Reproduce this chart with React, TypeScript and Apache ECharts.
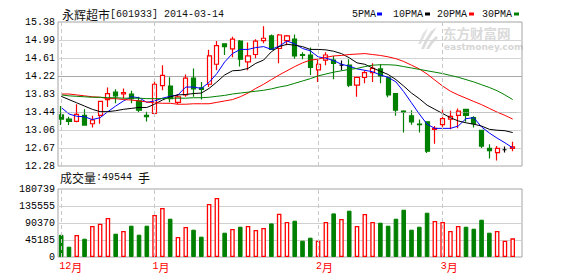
import React, { useEffect, useRef } from 'react';
import * as echarts from 'echarts';

const stockName = '永辉超市';
const stockCode = '601933';
const tradeDate = '2014-03-14';

const dates = [
  '2013-12-16', '2013-12-17', '2013-12-18', '2013-12-19', '2013-12-20', '2013-12-23', '2013-12-24', '2013-12-25', '2013-12-26', '2013-12-27', '2013-12-30', '2013-12-31',
  '2014-01-02', '2014-01-03', '2014-01-06', '2014-01-07', '2014-01-08', '2014-01-09', '2014-01-10', '2014-01-13', '2014-01-14', '2014-01-15', '2014-01-16', '2014-01-17',
  '2014-01-20', '2014-01-21', '2014-01-22', '2014-01-23', '2014-01-24', '2014-01-27', '2014-01-28', '2014-01-29', '2014-01-30',
  '2014-02-07', '2014-02-10', '2014-02-11', '2014-02-12', '2014-02-13', '2014-02-14', '2014-02-17', '2014-02-18', '2014-02-19', '2014-02-20', '2014-02-21',
  '2014-02-24', '2014-02-25', '2014-02-26', '2014-02-27', '2014-02-28',
  '2014-03-03', '2014-03-04', '2014-03-05', '2014-03-06', '2014-03-07', '2014-03-10', '2014-03-11', '2014-03-12', '2014-03-13', '2014-03-14',
];

const opens = [
  13.38, 13.29, 13.24, 13.37, 13.19, 13.37, 13.71, 13.87, 13.83, 13.83, 13.68, 13.37,
  13.41, 14.01, 14.00, 13.65, 13.81, 14.17, 13.96, 14.04, 14.47, 14.91, 14.80, 14.97,
  14.52, 14.68, 14.98, 15.08, 14.81, 14.98, 15.01, 14.68, 14.67,
  14.35, 14.56, 14.56, 14.45, 14.45, 14.02, 14.19, 14.29, 14.37, 14.18, 13.84,
  13.46, 13.36, 13.18, 13.23, 13.07,
  13.17, 13.29, 13.37, 13.50, 13.32, 13.05, 12.66, 12.57, 12.63, 12.66,
];
const closes = [
  13.29, 13.24, 13.39, 13.16, 13.27, 13.67, 13.84, 13.79, 13.86, 13.73, 13.48, 13.34,
  14.04, 14.23, 13.73, 13.77, 14.17, 13.94, 13.93, 14.65, 14.87, 14.85, 15.01, 14.58,
  14.65, 14.97, 15.03, 14.79, 15.10, 15.08, 14.65, 14.66, 14.40,
  14.47, 14.67, 14.49, 14.45, 14.02, 14.19, 14.29, 14.38, 14.22, 13.81, 13.48,
  13.44, 13.23, 13.17, 12.60, 13.09,
  13.30, 13.35, 13.46, 13.37, 13.19, 12.71, 12.61, 12.66, 12.63, 12.69,
];
const lows = [
  13.16, 13.16, 13.22, 13.16, 13.11, 13.19, 13.55, 13.63, 13.73, 13.63, 13.44, 13.24,
  13.39, 13.91, 13.65, 13.61, 13.77, 13.77, 13.71, 13.98, 14.34, 14.67, 14.62, 14.42,
  14.34, 14.60, 14.92, 14.79, 14.49, 14.88, 14.59, 14.58, 14.24,
  14.09, 14.45, 14.15, 14.34, 13.98, 13.77, 14.06, 14.09, 14.06, 13.76, 13.36,
  13.00, 13.17, 13.00, 12.56, 12.76,
  13.11, 13.07, 13.09, 13.23, 13.11, 12.67, 12.44, 12.40, 12.57, 12.60,
];
const highs = [
  13.57, 13.34, 13.61, 13.50, 13.36, 13.68, 13.97, 13.93, 13.95, 13.90, 13.77, 13.45,
  14.11, 14.45, 14.19, 13.83, 14.25, 14.38, 14.09, 14.78, 14.97, 14.92, 15.06, 14.99,
  14.94, 15.01, 15.29, 15.11, 15.12, 15.10, 15.11, 14.73, 14.83,
  14.56, 14.73, 14.65, 14.55, 14.58, 14.20, 14.34, 14.49, 14.47, 14.20, 13.85,
  13.48, 13.48, 13.28, 13.24, 13.14,
  13.54, 13.47, 13.52, 13.51, 13.35, 13.06, 12.75, 12.71, 12.70, 12.80,
];

const ma5 = [
  13.54, 13.40, 13.35, 13.34, 13.28, 13.32, 13.45, 13.57, 13.68, 13.77, 13.75, 13.65,
  13.68, 13.74, 13.78, 13.81, 13.98, 13.98, 13.95, 14.08, 14.27, 14.52, 14.70, 14.79,
  14.79, 14.83, 14.85, 14.79, 14.86, 14.97, 14.91, 14.81, 14.76,
  14.63, 14.60, 14.55, 14.47, 14.43, 14.37, 14.34, 14.31, 14.24, 14.19, 14.09,
  13.88, 13.64, 13.40, 13.18, 13.09,
  13.09, 13.09, 13.14, 13.30, 13.32, 13.12, 12.99, 12.88, 12.78, 12.67,
];
const ma10 = [
  13.78, 13.71, 13.64, 13.57, 13.50, 13.45, 13.45, 13.47, 13.50, 13.52, 13.54, 13.54,
  13.61, 13.70, 13.77, 13.81, 13.82, 13.84, 13.85, 13.95, 14.09, 14.24, 14.33, 14.34,
  14.38, 14.49, 14.56, 14.74, 14.85, 14.90, 14.88, 14.85, 14.79,
  14.79, 14.78, 14.75, 14.70, 14.61, 14.50, 14.47, 14.39, 14.32, 14.25, 14.14,
  14.00, 13.85, 13.73, 13.59, 13.50,
  13.41, 13.32, 13.25, 13.21, 13.18, 13.14, 13.07, 13.05, 13.04, 13.00,
];
const ma20 = [
  13.83, 13.83, 13.81, 13.79, 13.77, 13.76, 13.73, 13.73, 13.71, 13.70, 13.68, 13.66,
  13.64, 13.63, 13.63, 13.61, 13.61, 13.62, 13.62, 13.62, 13.65, 13.68, 13.71, 13.77,
  13.85, 13.95, 14.04, 14.14, 14.24, 14.33, 14.42, 14.50, 14.56,
  14.58, 14.62, 14.65, 14.66, 14.68, 14.69, 14.70, 14.68, 14.66, 14.63, 14.59,
  14.53, 14.45, 14.37, 14.26, 14.13,
  14.00, 13.89, 13.81, 13.74, 13.67, 13.60, 13.52, 13.44, 13.37, 13.29,
];
const ma30 = [
  13.81, 13.79, 13.78, 13.77, 13.76, 13.76, 13.75, 13.75, 13.74, 13.74, 13.74, 13.73,
  13.73, 13.73, 13.74, 13.74, 13.74, 13.75, 13.75, 13.76, 13.78, 13.80, 13.83, 13.85,
  13.87, 13.89, 13.91, 13.94, 13.98, 14.01, 14.06, 14.11, 14.16,
  14.22, 14.26, 14.30, 14.33, 14.36, 14.38, 14.42, 14.45, 14.46, 14.46, 14.45,
  14.42, 14.39, 14.36, 14.33, 14.30,
  14.27, 14.23, 14.19, 14.14, 14.09, 14.03, 13.97, 13.90, 13.81, 13.71,
];

const volumes = [
  59000, 27400, 58500, 48600, 82400, 88500, 103600, 62000, 69100, 83200, 59300, 83200,
  111600, 130200, 101800, 53200, 79700, 72600, 54000, 140900, 156800, 64600, 74400, 80500,
  82400, 71800, 77100, 89300, 115100, 93000, 96500, 43300, 51300,
  43300, 93000, 115900, 101000, 123100, 82400, 114300, 93000, 91200, 83200, 101800,
  125700, 72600, 80500, 117700, 95700,
  93000, 69100, 82400, 80500, 75200, 99100, 64600, 69100, 43300, 49544,
];

const priceTicks = ['12.28', '12.67', '13.06', '13.44', '13.83', '14.22', '14.61', '14.99', '15.38'];
const volumeTicks = ['0', '45185', '90370', '135555', '180739'];
const maNames = ['5PMA', '10PMA', '20PMA', '30PMA'];

const UP = '#ff0000';
const DOWN = '#008000';
const DOJI = '#000000';
const MA_COLORS = ['#0000ff', '#000000', '#ff0000', '#008000'];
const MONO = '"Liberation Mono", "DejaVu Sans Mono", monospace';
const CJK = '"Noto Sans CJK SC", sans-serif';

export default function App() {
  const ref = useRef<HTMLDivElement>(null);

  useEffect(() => {
    if (!ref.current) return;
    const chart = echarts.init(ref.current, null, { renderer: 'svg' });

    const monthStarts = dates
      .map((d, i) => (i === 0 || d.slice(5, 7) !== dates[i - 1].slice(5, 7) ? i : -1))
      .filter((i) => i >= 0);
    const monthSet = new Set(monthStarts);

    const candleData = dates.map((_, i) => [opens[i], closes[i], lows[i], highs[i]]);
    const volData = volumes.map((v, i) => {
      const down = closes[i] < opens[i];
      return {
        value: v,
        itemStyle: down
          ? { color: DOWN, borderColor: DOWN, borderWidth: 1 }
          : { color: '#ffffff', borderColor: UP, borderWidth: 1.3 },
      };
    });

    const monthLines = monthStarts.map((i) => ({ xAxis: dates[i] }));
    const monthMarkLine = {
      silent: true,
      symbol: ['none', 'none'],
      label: { show: false },
      lineStyle: { type: [4, 3], color: '#c8c8c8', width: 1 },
      data: monthLines,
      animation: false,
    };

    const priceSplitColors = priceTicks.map((_, i) =>
      i === 3 ? 'rgba(0,0,0,0)' : i === 4 ? '#a8a8a8' : '#d4d4d4'
    );

    const PL = 57.3;
    const PW = 459.3;

    const legendX = [352, 393, 437, 482];
    const legendBoxX = [377, 425, 469, 514];

    const graphics: any[] = [
      {
        type: 'text',
        x: 62,
        y: 14,
        style: {
          text: `{c|${stockName}}{a|[${stockCode}] ${tradeDate}}`,
          verticalAlign: 'middle',
          rich: {
            c: { fontFamily: CJK, fontSize: 12, fill: '#111' },
            a: { fontFamily: MONO, fontSize: 10, fill: '#111' },
          },
        },
      },
      ...maNames.flatMap((n, i) => [
        {
          type: 'text',
          x: legendX[i],
          y: 14,
          style: { text: n, fontFamily: MONO, fontSize: 10, fill: '#111', verticalAlign: 'middle' },
        },
        {
          type: 'rect',
          shape: { x: legendBoxX[i], y: 12.5, width: 5, height: 3 },
          style: { fill: MA_COLORS[i] },
        },
      ]),
      {
        type: 'text',
        x: 60,
        y: 177,
        style: {
          text: `{c|成交量}{a|:${volumes[volumes.length - 1]} }{c|手}`,
          verticalAlign: 'middle',
          rich: {
            c: { fontFamily: CJK, fontSize: 12, fill: '#111' },
            a: { fontFamily: MONO, fontSize: 10, fill: '#111' },
          },
        },
      },
      // watermark
      {
        type: 'polygon',
        z: -1,
        shape: { points: [[421, 49], [425, 40], [431, 31], [437, 27], [433, 33], [428, 41], [424, 49]] },
        style: { fill: '#dcdcdc' },
      },
      {
        type: 'polygon',
        z: -1,
        shape: { points: [[426, 49], [430, 42], [436, 36], [438, 38], [433, 43], [429, 49]] },
        style: { fill: '#dcdcdc' },
      },
      {
        type: 'polygon',
        z: -1,
        shape: { points: [[418, 44], [423, 33], [428, 28], [426, 33], [421, 44]] },
        style: { fill: '#e2e2e2' },
      },
      {
        type: 'text',
        z: -1,
        x: 443,
        y: 32.5,
        style: {
          text: '东方财富网', fontFamily: CJK, fontSize: 13.5, lineHeight: 12, fontWeight: 'bold',
          fill: '#dadada', verticalAlign: 'middle',
        },
      },
      {
        type: 'text',
        z: -1,
        x: 444,
        y: 47,
        style: {
          text: 'eastmoney.com', fontFamily: '"DejaVu Sans", sans-serif', fontSize: 9, lineHeight: 7,
          fontWeight: 'bold', fill: '#d6d6d6', verticalAlign: 'middle',
        },
      },
    ];

    const option: any = {
      animation: false,
      backgroundColor: '#ffffff',
      grid: [
        { left: 58, top: 22, width: 464, height: 144, show: true, borderColor: '#a4a4a4', borderWidth: 1, backgroundColor: 'transparent' },
        { left: PL, top: 22, width: PW, height: 144 },
        { left: 58, top: 189, width: 464, height: 68, show: true, borderColor: '#a4a4a4', borderWidth: 1, backgroundColor: 'transparent' },
        { left: PL, top: 189, width: PW, height: 68 },
      ],
      xAxis: [
        { type: 'value', gridIndex: 0, show: false },
        {
          type: 'category', gridIndex: 1, data: dates, boundaryGap: true,
          axisLine: { show: false }, axisTick: { show: false }, axisLabel: { show: false }, splitLine: { show: false },
        },
        { type: 'value', gridIndex: 2, show: false },
        {
          type: 'category', gridIndex: 3, data: dates, boundaryGap: true,
          axisLine: { show: false }, axisTick: { show: false }, splitLine: { show: false },
          axisLabel: {
            show: true,
            interval: (idx: number) => monthSet.has(idx),
            align: 'left',
            margin: 4,
            padding: [0, 0, 0, -2],
            hideOverlap: false,
            formatter: (val: string) => `{n|${parseInt(val.slice(5, 7), 10)}}{m|月}`,
            rich: {
              n: { fontFamily: MONO, fontSize: 10, color: '#ff0000' },
              m: { fontFamily: CJK, fontSize: 11, color: '#ff0000' },
            },
          },
        },
      ],
      yAxis: [
        {
          type: 'category', gridIndex: 0, data: priceTicks, boundaryGap: false,
          axisLine: { show: false }, axisTick: { show: false },
          axisLabel: { interval: 0, margin: 3, fontFamily: MONO, fontSize: 10, color: '#000' },
          splitLine: { show: true, interval: 0, showMinLine: false, showMaxLine: false, lineStyle: { color: priceSplitColors, width: 1 } },
        },
        {
          type: 'value', gridIndex: 1, min: Number(priceTicks[0]), max: Number(priceTicks[priceTicks.length - 1]),
          show: false, splitLine: { show: false },
        },
        {
          type: 'category', gridIndex: 2, data: volumeTicks, boundaryGap: false,
          axisLine: { show: false }, axisTick: { show: false },
          axisLabel: { interval: 0, margin: 3, fontFamily: MONO, fontSize: 10, color: '#000' },
          splitLine: { show: true, interval: 0, showMinLine: false, showMaxLine: false, lineStyle: { color: '#d0d0d0', width: 1 } },
        },
        {
          type: 'value', gridIndex: 3, min: Number(volumeTicks[0]), max: Number(volumeTicks[volumeTicks.length - 1]),
          show: false, splitLine: { show: false },
        },
      ],
      series: [
        {
          type: 'candlestick',
          name: 'K',
          xAxisIndex: 1,
          yAxisIndex: 1,
          data: candleData,
          barWidth: 4.6,
          itemStyle: {
            color: '#ffffff',
            color0: DOWN,
            borderColor: UP,
            borderColor0: DOWN,
            borderColorDoji: DOJI,
            borderWidth: 1.2,
          },
          markLine: {
            ...monthMarkLine,
            data: [
              ...monthLines,
              { yAxis: Number(priceTicks[3]), lineStyle: { type: 'dotted', color: '#b4b4b4', width: 1 } },
            ],
          },
        },
        ...[ma5, ma10, ma20, ma30].map((d, i) => ({
          type: 'line',
          name: maNames[i],
          xAxisIndex: 1,
          yAxisIndex: 1,
          data: d,
          symbol: 'none',
          showSymbol: false,
          smooth: false,
          lineStyle: { color: MA_COLORS[i], width: 1 },
          itemStyle: { color: MA_COLORS[i] },
          z: 3,
        })),
        {
          type: 'bar',
          name: 'VOL',
          xAxisIndex: 3,
          yAxisIndex: 3,
          data: volData,
          barWidth: 4.6,
          markLine: monthMarkLine,
        },
      ],
      graphic: graphics,
    };

    chart.setOption(option);
    return () => chart.dispose();
  }, []);

  return <div ref={ref} style={{ position: 'fixed', left: 0, top: 0, width: 578, height: 276 }} />;
}
